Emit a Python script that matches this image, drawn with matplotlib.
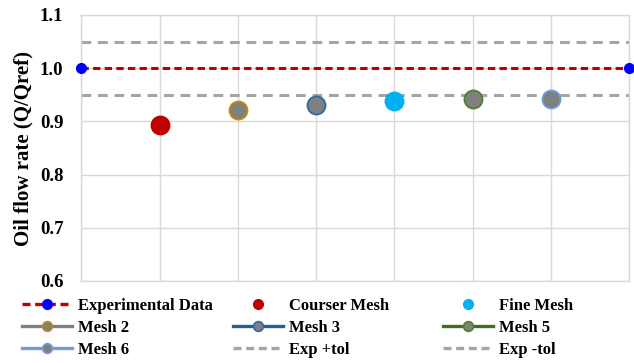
import matplotlib.pyplot as plt
from matplotlib.lines import Line2D

plt.rcParams['font.family'] = ['Liberation Serif', 'DejaVu Serif']
plt.rcParams['font.weight'] = 'bold'

# Normalised oil flow rate for each mesh
exp_x = [0, 7]
exp_y = [1.0, 1.0]
tol_plus = [1.05, 1.05]
tol_minus = [0.95, 0.95]

mesh_names = ["Courser Mesh", "Mesh 2", "Mesh 3", "Fine Mesh", "Mesh 5", "Mesh 6"]
mesh_x = [1, 2, 3, 4, 5, 6]
mesh_y = [0.894, 0.921, 0.930, 0.939, 0.942, 0.942]

# marker fill, marker edge, line colour for each mesh series
mesh_fill = ["#C00000", "#7F7F7F", "#7F7F7F", "#00B0F0", "#7F7F7F", "#7F7F7F"]
mesh_edge = ["#C00000", "#BF9000", "#2E6AA3", "#00B0F0", "#4E7F2E", "#6F9BE0"]
mesh_line = [None, "#7F7F7F", "#255E91", None, "#3F6F25", "#6F9BE0"]

fig = plt.figure(figsize=(6.34, 3.63), dpi=100)
ax = fig.add_axes([0.1285, 0.2259, 0.8635, 0.7328])

grid_c = "#D9D9D9"
ax.plot(exp_x, tol_plus, color="#A5A5A5", lw=2.2, dashes=(3.2, 2.2), zorder=2)
ax.plot(exp_x, tol_minus, color="#A5A5A5", lw=2.2, dashes=(3.2, 2.2), zorder=2)
ax.plot(exp_x, exp_y, color="#C00000", lw=2.2, dashes=(2.4, 1.4),
        marker="o", ms=7, mfc="#0000FF", mec="#0000FF", zorder=3, clip_on=False)

for x, y, fc, ec in zip(mesh_x, mesh_y, mesh_fill, mesh_edge):
    ax.plot([x], [y], marker="o", ms=13, mfc=fc, mec=ec, mew=1.3, ls="none", zorder=4)

ax.set_xlim(0, 7)
ax.set_ylim(0.6, 1.1)
ax.set_xticks(range(8))
ax.set_xticklabels([])
ax.set_yticks([0.6, 0.7, 0.8, 0.9, 1.0, 1.1])
ax.set_yticklabels(["0.6", "0.7", "0.8", "0.9", "1.0", "1.1"])
ax.tick_params(axis="both", length=0, labelsize=13.5, pad=13)
ax.grid(True, color=grid_c, lw=1.0, zorder=0)
ax.set_axisbelow(True)
for s in ax.spines.values():
    s.set_color(grid_c)
    s.set_linewidth(1.0)

ax.set_ylabel("Oil flow rate (Q/Qref)", fontsize=15, fontweight="bold")
ax.yaxis.set_label_coords(-0.087, 0.497)


def mesh_handle(i):
    if mesh_line[i] is None:
        return Line2D([], [], ls="none", marker="o", ms=7, mfc=mesh_fill[i], mec=mesh_edge[i])
    return Line2D([], [], color=mesh_line[i], lw=2.4, marker="o", ms=7,
                  mfc=mesh_fill[i], mec=mesh_edge[i], mew=1.2)


h_exp = Line2D([], [], color="#C00000", lw=2.4, dashes=(2.4, 1.4), marker="o",
               ms=7, mfc="#0000FF", mec="#0000FF")
h_plus = Line2D([], [], color="#A5A5A5", lw=2.4, dashes=(2.4, 1.4))
h_minus = Line2D([], [], color="#A5A5A5", lw=2.4, dashes=(2.4, 1.4))

columns = [
    ([h_exp, mesh_handle(1), mesh_handle(5)], ["Experimental Data", "Mesh 2", "Mesh 6"], 0.034),
    ([mesh_handle(0), mesh_handle(2), h_plus], ["Courser Mesh", "Mesh 3", "Exp +tol"], 0.367),
    ([mesh_handle(3), mesh_handle(4), h_minus], ["Fine Mesh", "Mesh 5", "Exp -tol"], 0.698),
]
for handles, labels, x0 in columns:
    fig.legend(handles, labels, loc="upper left", bbox_to_anchor=(x0, 0.18),
               frameon=False, handlelength=3.0, handletextpad=0.4,
               labelspacing=0.37, borderpad=0, borderaxespad=0,
               prop={"weight": "bold", "size": 12})

fig.savefig("out.png", dpi=100)
